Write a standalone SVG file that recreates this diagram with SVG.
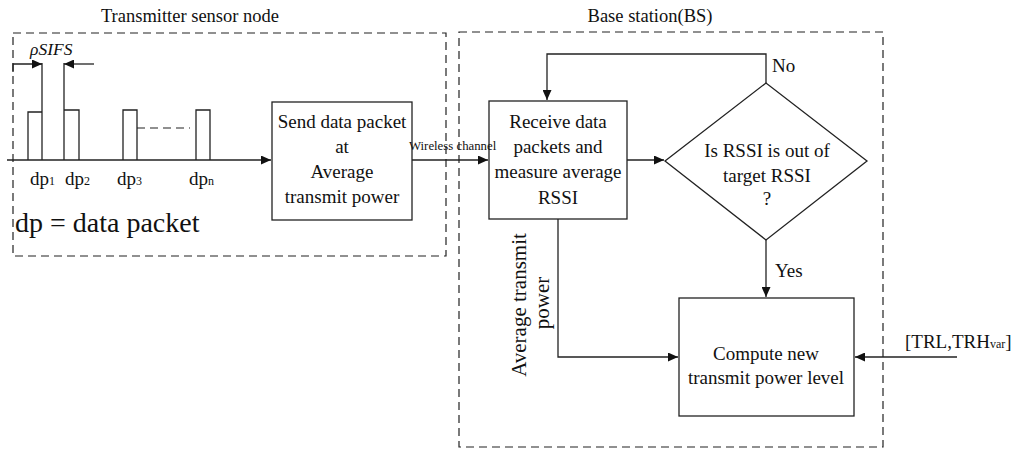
<svg xmlns="http://www.w3.org/2000/svg" width="1015" height="451" viewBox="0 0 1015 451">
<style>
text{font-family:"Liberation Serif","Times New Roman",serif;fill:#111}
.t{font-size:19px}
.ttl{font-size:18.5px}
.c{text-anchor:middle}
.sm{font-size:12.8px}
.big{font-size:28px}
.rot{font-size:21px}
.it{font-size:17.5px;font-style:italic}
.sub{font-size:12px}
.box{fill:#fff;stroke:#222;stroke-width:1.3}
.ln{fill:none;stroke:#222;stroke-width:1.3}
.dash{fill:none;stroke:#222;stroke-width:1.2;stroke-dasharray:8,5}
.arr{marker-end:url(#ah)}
</style>
<defs>
<marker id="ah" markerUnits="userSpaceOnUse" markerWidth="11" markerHeight="9" refX="10" refY="4.5" orient="auto">
<path d="M0,0 L10,4.5 L0,9 z" fill="#111"/>
</marker>
</defs>
<rect width="1015" height="451" fill="#fff"/>
<g id="transmitter-region">
<rect class="dash" x="13" y="33" width="433" height="223"/>
<text class="ttl c" x="190" y="22">Transmitter sensor node</text>
</g>
<g id="base-station-region">
<rect class="dash" x="459" y="32" width="424" height="415"/>
<text class="ttl c" x="650" y="22">Base station(BS)</text>
</g>
<g id="packet-train">
<path class="ln" d="M28,160 V112 H42"/>
<path class="ln" d="M42,63 V160"/>
<path class="ln" d="M64,63 V160"/>
<path class="ln" d="M64,110 H79 V160"/>
<path class="ln" d="M123,160 V110 H137 V160"/>
<path class="ln" d="M196,160 V110 H210 V160"/>
<path class="dash" d="M137,128 H190"/>
<text class="it" x="30" y="55">ρSIFS</text>
<text class="t" x="30" y="185">dp<tspan class="sub">1</tspan></text>
<text class="t" x="65" y="185">dp<tspan class="sub">2</tspan></text>
<text class="t" x="117" y="185">dp<tspan class="sub">3</tspan></text>
<text class="t" x="189" y="185">dp<tspan class="sub">n</tspan></text>
<text class="big" x="15" y="232">dp = data packet</text>
</g>
<g id="send">
<rect class="box" x="272" y="102" width="140" height="118"/>
<text class="t c" x="342" y="128">Send data packet</text>
<text class="t c" x="342" y="153">at</text>
<text class="t c" x="342" y="178">Average</text>
<text class="t c" x="342" y="203">transmit power</text>
</g>
<g id="receive">
<rect class="box" x="489" y="101" width="138" height="118"/>
<text class="t c" x="558" y="128">Receive data</text>
<text class="t c" x="558" y="153">packets and</text>
<text class="t c" x="558" y="178">measure average</text>
<text class="t c" x="558" y="204">RSSI</text>
</g>
<g id="decision">
<polygon class="box" points="665,161 766,83 867,161 766,240"/>
<text class="t c" x="767" y="157">Is RSSI is out of</text>
<text class="t c" x="767" y="182">target RSSI</text>
<text class="t c" x="767" y="205">?</text>
</g>
<g id="compute">
<rect class="box" x="679" y="298" width="175" height="118"/>
<text class="t c" x="766" y="360">Compute new</text>
<text class="t c" x="766" y="384">transmit power level</text>
</g>
<g id="connectors">
<path class="ln arr" d="M7,160 H271"/>
<path class="ln arr" d="M13,72 V64 H42"/>
<path class="ln arr" d="M94,64 H64"/>
<path class="ln arr" d="M412,160 H488"/>
<text class="sm" x="409" y="150">Wireless channel</text>
<path class="ln arr" d="M627,160 H664"/>
<path class="ln arr" d="M766,83 V54 H547 V100"/>
<text class="t" x="772" y="72">No</text>
<path class="ln arr" d="M766,240 V297"/>
<text class="t" x="775" y="277">Yes</text>
<path class="ln arr" d="M558,219 V357 H678"/>
<text class="rot c" transform="translate(526,305) rotate(-90)">Average transmit</text>
<text class="rot c" transform="translate(549,303) rotate(-90)">power</text>
<path class="ln arr" d="M957,357 H855"/>
<text class="t" x="905" y="348">[TRL,TRH<tspan class="sub">var</tspan>]</text>
</g>
</svg>
